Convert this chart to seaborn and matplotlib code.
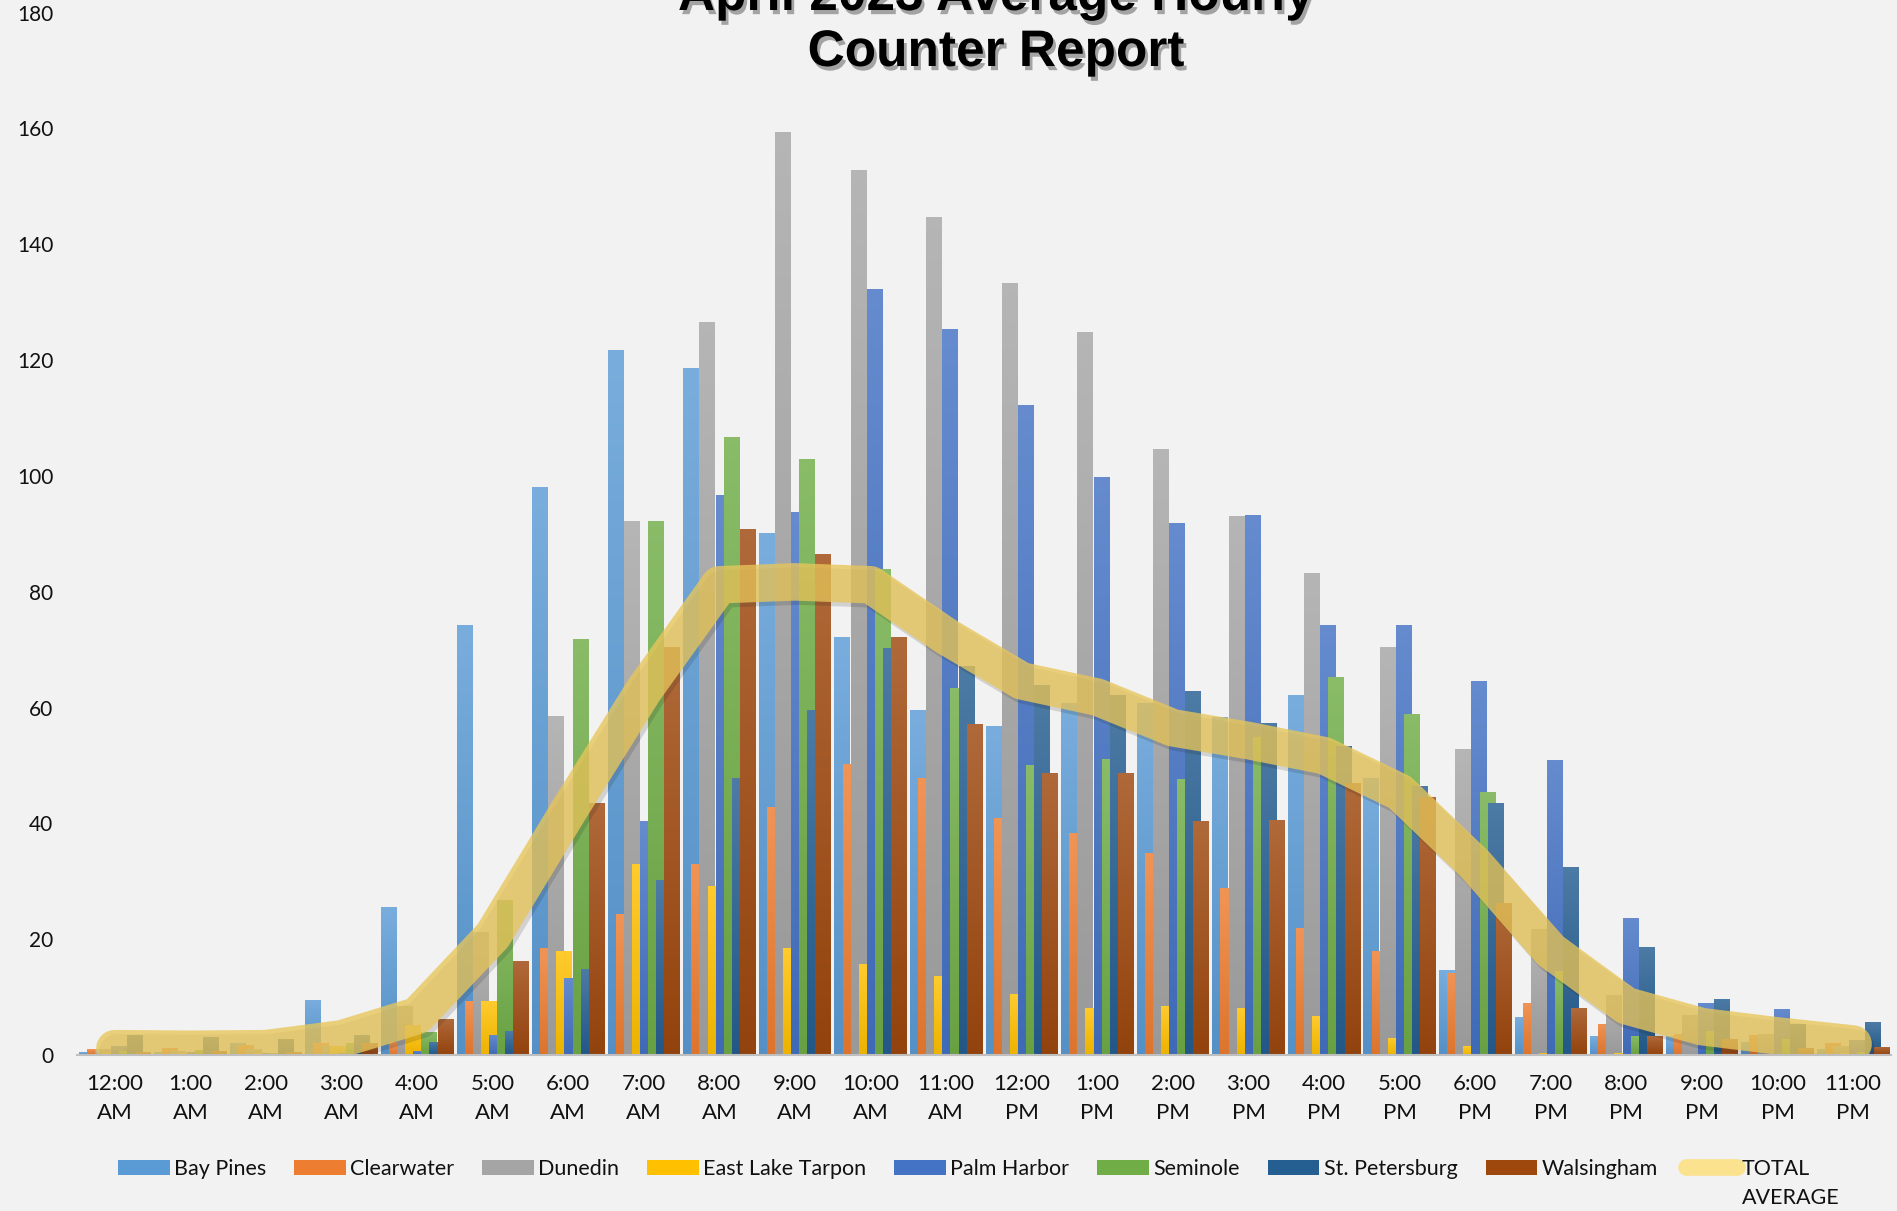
import numpy as np
import pandas as pd
import matplotlib
matplotlib.use("Agg")
import matplotlib.pyplot as plt
import matplotlib.patheffects as pe
from matplotlib.colors import to_rgb
from matplotlib.lines import Line2D
from matplotlib.patches import Patch
import seaborn as sns

# hourly labels
hours = ["12:00\nAM", "1:00\nAM", "2:00\nAM", "3:00\nAM", "4:00\nAM", "5:00\nAM",
         "6:00\nAM", "7:00\nAM", "8:00\nAM", "9:00\nAM", "10:00\nAM", "11:00\nAM",
         "12:00\nPM", "1:00\nPM", "2:00\nPM", "3:00\nPM", "4:00\nPM", "5:00\nPM",
         "6:00\nPM", "7:00\nPM", "8:00\nPM", "9:00\nPM", "10:00\nPM", "11:00\nPM"]

sites = ["Bay Pines", "Clearwater", "Dunedin", "East Lake Tarpon",
         "Palm Harbor", "Seminole", "St. Petersburg", "Walsingham"]

# values (average counts per hour)
bay_pines = [0.5, 0.5, 2.1, 9.5, 25.6, 74.3, 98.1, 121.7, 118.6, 90.1, 72.1, 59.5,
             56.8, 60.8, 60.8, 58.3, 62.1, 47.8, 14.7, 6.6, 3.2, 3.2, 2.2, 1.0]
clearwater = [1.0, 1.2, 1.7, 2.0, 2.2, 9.3, 18.4, 24.3, 32.9, 42.8, 50.2, 47.8,
              40.9, 38.4, 34.9, 28.8, 22.0, 17.9, 14.2, 9.0, 5.4, 3.7, 3.5, 2.1]
dunedin = [1.0, 0.7, 1.0, 1.6, 8.5, 21.3, 58.5, 92.2, 126.5, 159.4, 152.9, 144.7,
           133.3, 124.8, 104.7, 93.0, 83.3, 70.5, 52.9, 21.8, 10.4, 6.9, 3.6, 1.5]
east_lake = [0.3, 0.4, 0.3, 1.6, 5.2, 9.3, 18.0, 32.9, 29.2, 18.4, 15.8, 13.7,
             10.5, 8.2, 8.4, 8.2, 6.7, 3.0, 1.6, 0.4, 0.3, 0.2, 0.1, 0.4]
palm_harbor = [1.6, 0.5, 0.4, 0.3, 0.7, 3.5, 13.3, 40.4, 96.7, 93.8, 132.2, 125.3,
               112.2, 99.8, 91.9, 93.2, 74.3, 74.3, 64.5, 51.0, 23.7, 9.0, 7.9, 2.6]
seminole = [0.7, 0.9, 0.3, 2.1, 4.0, 26.8, 71.8, 92.2, 106.7, 102.9, 84.0, 63.3,
            50.1, 51.2, 47.7, 55.0, 65.2, 58.9, 45.5, 14.5, 3.3, 4.1, 2.8, 0.5]
st_pete = [3.5, 3.1, 2.8, 3.5, 2.3, 4.1, 14.9, 30.2, 47.8, 59.5, 70.2, 67.1,
           63.9, 62.2, 62.9, 57.3, 53.4, 46.4, 43.6, 32.5, 18.7, 9.7, 5.4, 5.7]
walsingham = [0.5, 0.7, 0.5, 2.0, 6.2, 16.3, 43.6, 70.4, 90.8, 86.5, 72.1, 57.1,
              48.7, 48.7, 40.4, 40.6, 46.9, 44.5, 26.3, 8.1, 3.2, 2.7, 1.2, 1.3]
total_average = [1.1, 1.0, 1.1, 2.8, 6.8, 20.6, 42.1, 63.0, 81.2, 81.7, 81.2, 72.3,
                 64.6, 61.8, 56.5, 54.3, 51.7, 45.4, 32.9, 18.0, 8.5, 4.9, 3.3, 1.9]

series = [bay_pines, clearwater, dunedin, east_lake,
          palm_harbor, seminole, st_pete, walsingham]
colors = ["#5b9bd5", "#ed7d31", "#a5a5a5", "#ffc000",
          "#4472c4", "#70ad47", "#255e91", "#9e480e"]

sns.set_theme(style="white")
plt.rcParams["font.family"] = ["Lato", "DejaVu Sans"]

bg = "#f2f2f2"
fig = plt.figure(figsize=(18.97, 12.11), dpi=100, facecolor=bg)
ax = fig.add_axes([0.0406, 0.1288, 0.9562, 0.8608])
ax.set_facecolor(bg)

# overlapping clustered bars (each one drawn over the previous)
step = 0.107
width = 0.209
for i, (site, vals, col) in enumerate(zip(sites, series, colors)):
    n_before = len(ax.patches)
    d = pd.DataFrame({"x": np.arange(24) - 0.374 + step * i, "count": vals})
    sns.barplot(data=d, x="x", y="count", native_scale=True, width=width,
                color=col, saturation=1, errorbar=None, linewidth=0, ax=ax)
    # vertical gradient, lighter on top
    base = np.array(to_rgb(col))
    top = base + (1 - base) * 0.18
    bot = base * 0.93
    t = np.linspace(0, 1, 64)[:, None]
    grad = (top[None, :] * (1 - t) + bot[None, :] * t)[:, None, :]
    for p in ax.patches[n_before:]:
        x0, y0 = p.get_xy()
        w, h = p.get_width(), p.get_height()
        if h <= 0:
            continue
        im = ax.imshow(grad, extent=[x0, x0 + w, y0, y0 + h], aspect="auto",
                       origin="upper", interpolation="bilinear", zorder=p.get_zorder())
        im.set_clip_path(p)

# total average band
sns.lineplot(x=np.arange(24), y=total_average, ax=ax, color="#e8c65a", alpha=0.78,
             lw=27, solid_capstyle="round", solid_joinstyle="round", zorder=10,
             path_effects=[pe.SimpleLineShadow(offset=(2, -3), alpha=0.15), pe.Normal()])

ax.set_xlim(-0.5, 23.5)
ax.set_ylim(0, 180)
ax.set_xticks(range(24))
ax.set_xticklabels(hours, fontsize=16, linespacing=1.55, color="#111111")
ax.set_yticks(range(0, 181, 20))
ax.set_yticklabels([str(v) for v in range(0, 181, 20)], fontsize=15, color="#111111")
ax.tick_params(axis="x", length=0, pad=14)
ax.tick_params(axis="y", length=0, pad=17)
ax.set_xlabel("")
ax.set_ylabel("")
for s in ["top", "right", "left"]:
    ax.spines[s].set_visible(False)
ax.spines["bottom"].set_color("#bfbfbf")
ax.spines["bottom"].set_linewidth(1.5)
ax.spines["bottom"].set_zorder(12)

shadow = [pe.withSimplePatchShadow(offset=(2, -3), shadow_rgbFace="#555555", alpha=0.5)]
fig.text(0.525, 1 - 10 / 1211, "April 2023 Average Hourly", ha="center", va="baseline",
         fontsize=37, fontweight="bold", family="Liberation Sans", color="black",
         path_effects=shadow)
fig.text(0.525, 1 - 66 / 1211, "Counter Report", ha="center", va="baseline",
         fontsize=37, fontweight="bold", family="Liberation Sans", color="black",
         path_effects=shadow)

handles = [Patch(facecolor=c, edgecolor="none") for c in colors]
handles.append(Line2D([0], [0], color="#fbe28f", lw=12, solid_capstyle="round"))
labels = sites + ["TOTAL"]
leg = fig.legend(handles, labels, loc="center", bbox_to_anchor=(964 / 1897, 1 - 1169 / 1211),
                 ncol=9, frameon=False, fontsize=15.5, handlelength=2.4, handletextpad=0.2,
                 columnspacing=1.3, handleheight=0.75)
for txt in leg.get_texts():
    txt.set_color("#111111")

fig.canvas.draw()
bb = leg.get_texts()[-1].get_window_extent()
fig.text(bb.x0 / fig.bbox.width, (bb.y0 - 29) / fig.bbox.height, "AVERAGE",
         ha="left", va="bottom", fontsize=15.5, color="#111111")

fig.savefig("out.png", dpi=100, facecolor=bg)
